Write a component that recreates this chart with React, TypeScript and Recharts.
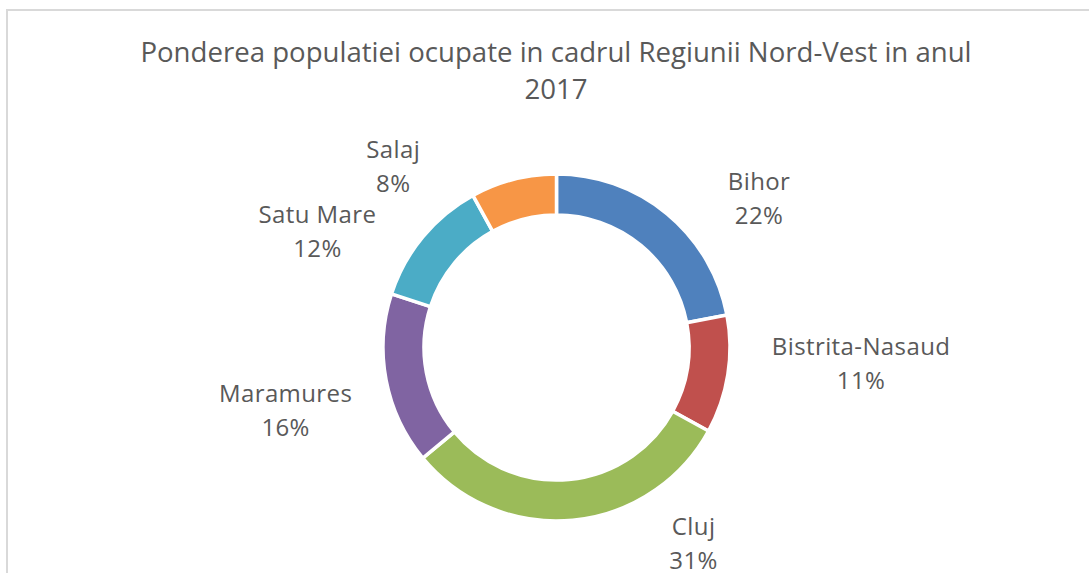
import React from "react";
import { PieChart, Pie, Cell } from "recharts";

// counties of the Nord-Vest region, share of employed population 2017 (%)
const counties = ["Bihor", "Bistrita-Nasaud", "Cluj", "Maramures", "Satu Mare", "Salaj"];
const shares = [22, 11, 31, 16, 12, 8];
const colors = ["#4F81BD", "#C0504D", "#9BBB59", "#8064A2", "#4BACC6", "#F79646"];

// label placement around the ring: angle clockwise from 12 o'clock (deg) and distance from centre (px)
const labelAngles = [53.5, 93, 145, 257, 296, 318];
const labelDistances = [252, 305, 239, 278, 266, 244];

const titleLines = ["Ponderea populatiei ocupate in cadrul Regiunii Nord-Vest in anul", "2017"];

const W = 1089;
const H = 573;
const FONT = "'Open Sans', sans-serif";
const TEXT = "#595959";

const data = counties.map((name, i) => ({ name, value: shares[i] }));

function renderLabel(props: any) {
  const { cx, cy, index, payload } = props;
  const a = (labelAngles[index] * Math.PI) / 180;
  const d = labelDistances[index];
  const x = cx + d * Math.sin(a);
  const y = cy - d * Math.cos(a);
  return (
    <text
      key={`lbl-${index}`}
      x={x}
      y={y}
      textAnchor="middle"
      fill={TEXT}
      fontFamily={FONT}
      fontSize={24}
      letterSpacing={0.4}
    >
      <tspan x={x} dy={-8}>{payload.name}</tspan>
      <tspan x={x} dy={34}>{`${payload.value}%`}</tspan>
    </text>
  );
}

export default function App() {
  return (
    <div style={{ position: "absolute", left: 0, top: 0, width: W, height: H, background: "#fff", overflow: "hidden" }}>
      <svg width={W} height={H} style={{ position: "absolute", left: 0, top: 0 }}>
        <rect x={7} y={10} width={W + 20} height={H + 20} fill="#fff" stroke="#d9d9d9" strokeWidth={2} />
        <text x={556} y={62} textAnchor="middle" fill={TEXT} fontFamily={FONT} fontSize={27.6}>
          {titleLines[0]}
        </text>
        <text x={556} y={99} textAnchor="middle" fill={TEXT} fontFamily={FONT} fontSize={27.6}>
          {titleLines[1]}
        </text>
      </svg>
      <div style={{ position: "absolute", left: 0, top: 0 }}>
        <PieChart width={W} height={H} margin={{ top: 0, right: 0, bottom: 0, left: 0 }}>
          <Pie
            data={data}
            dataKey="value"
            nameKey="name"
            cx={556.5}
            cy={347.5}
            innerRadius={132.5}
            outerRadius={173.5}
            startAngle={90}
            endAngle={-270}
            stroke="#fff"
            strokeWidth={3.5}
            label={renderLabel}
            labelLine={false}
            isAnimationActive={false}
          >
            {data.map((d, i) => (
              <Cell key={d.name} fill={colors[i]} />
            ))}
          </Pie>
        </PieChart>
      </div>
    </div>
  );
}
